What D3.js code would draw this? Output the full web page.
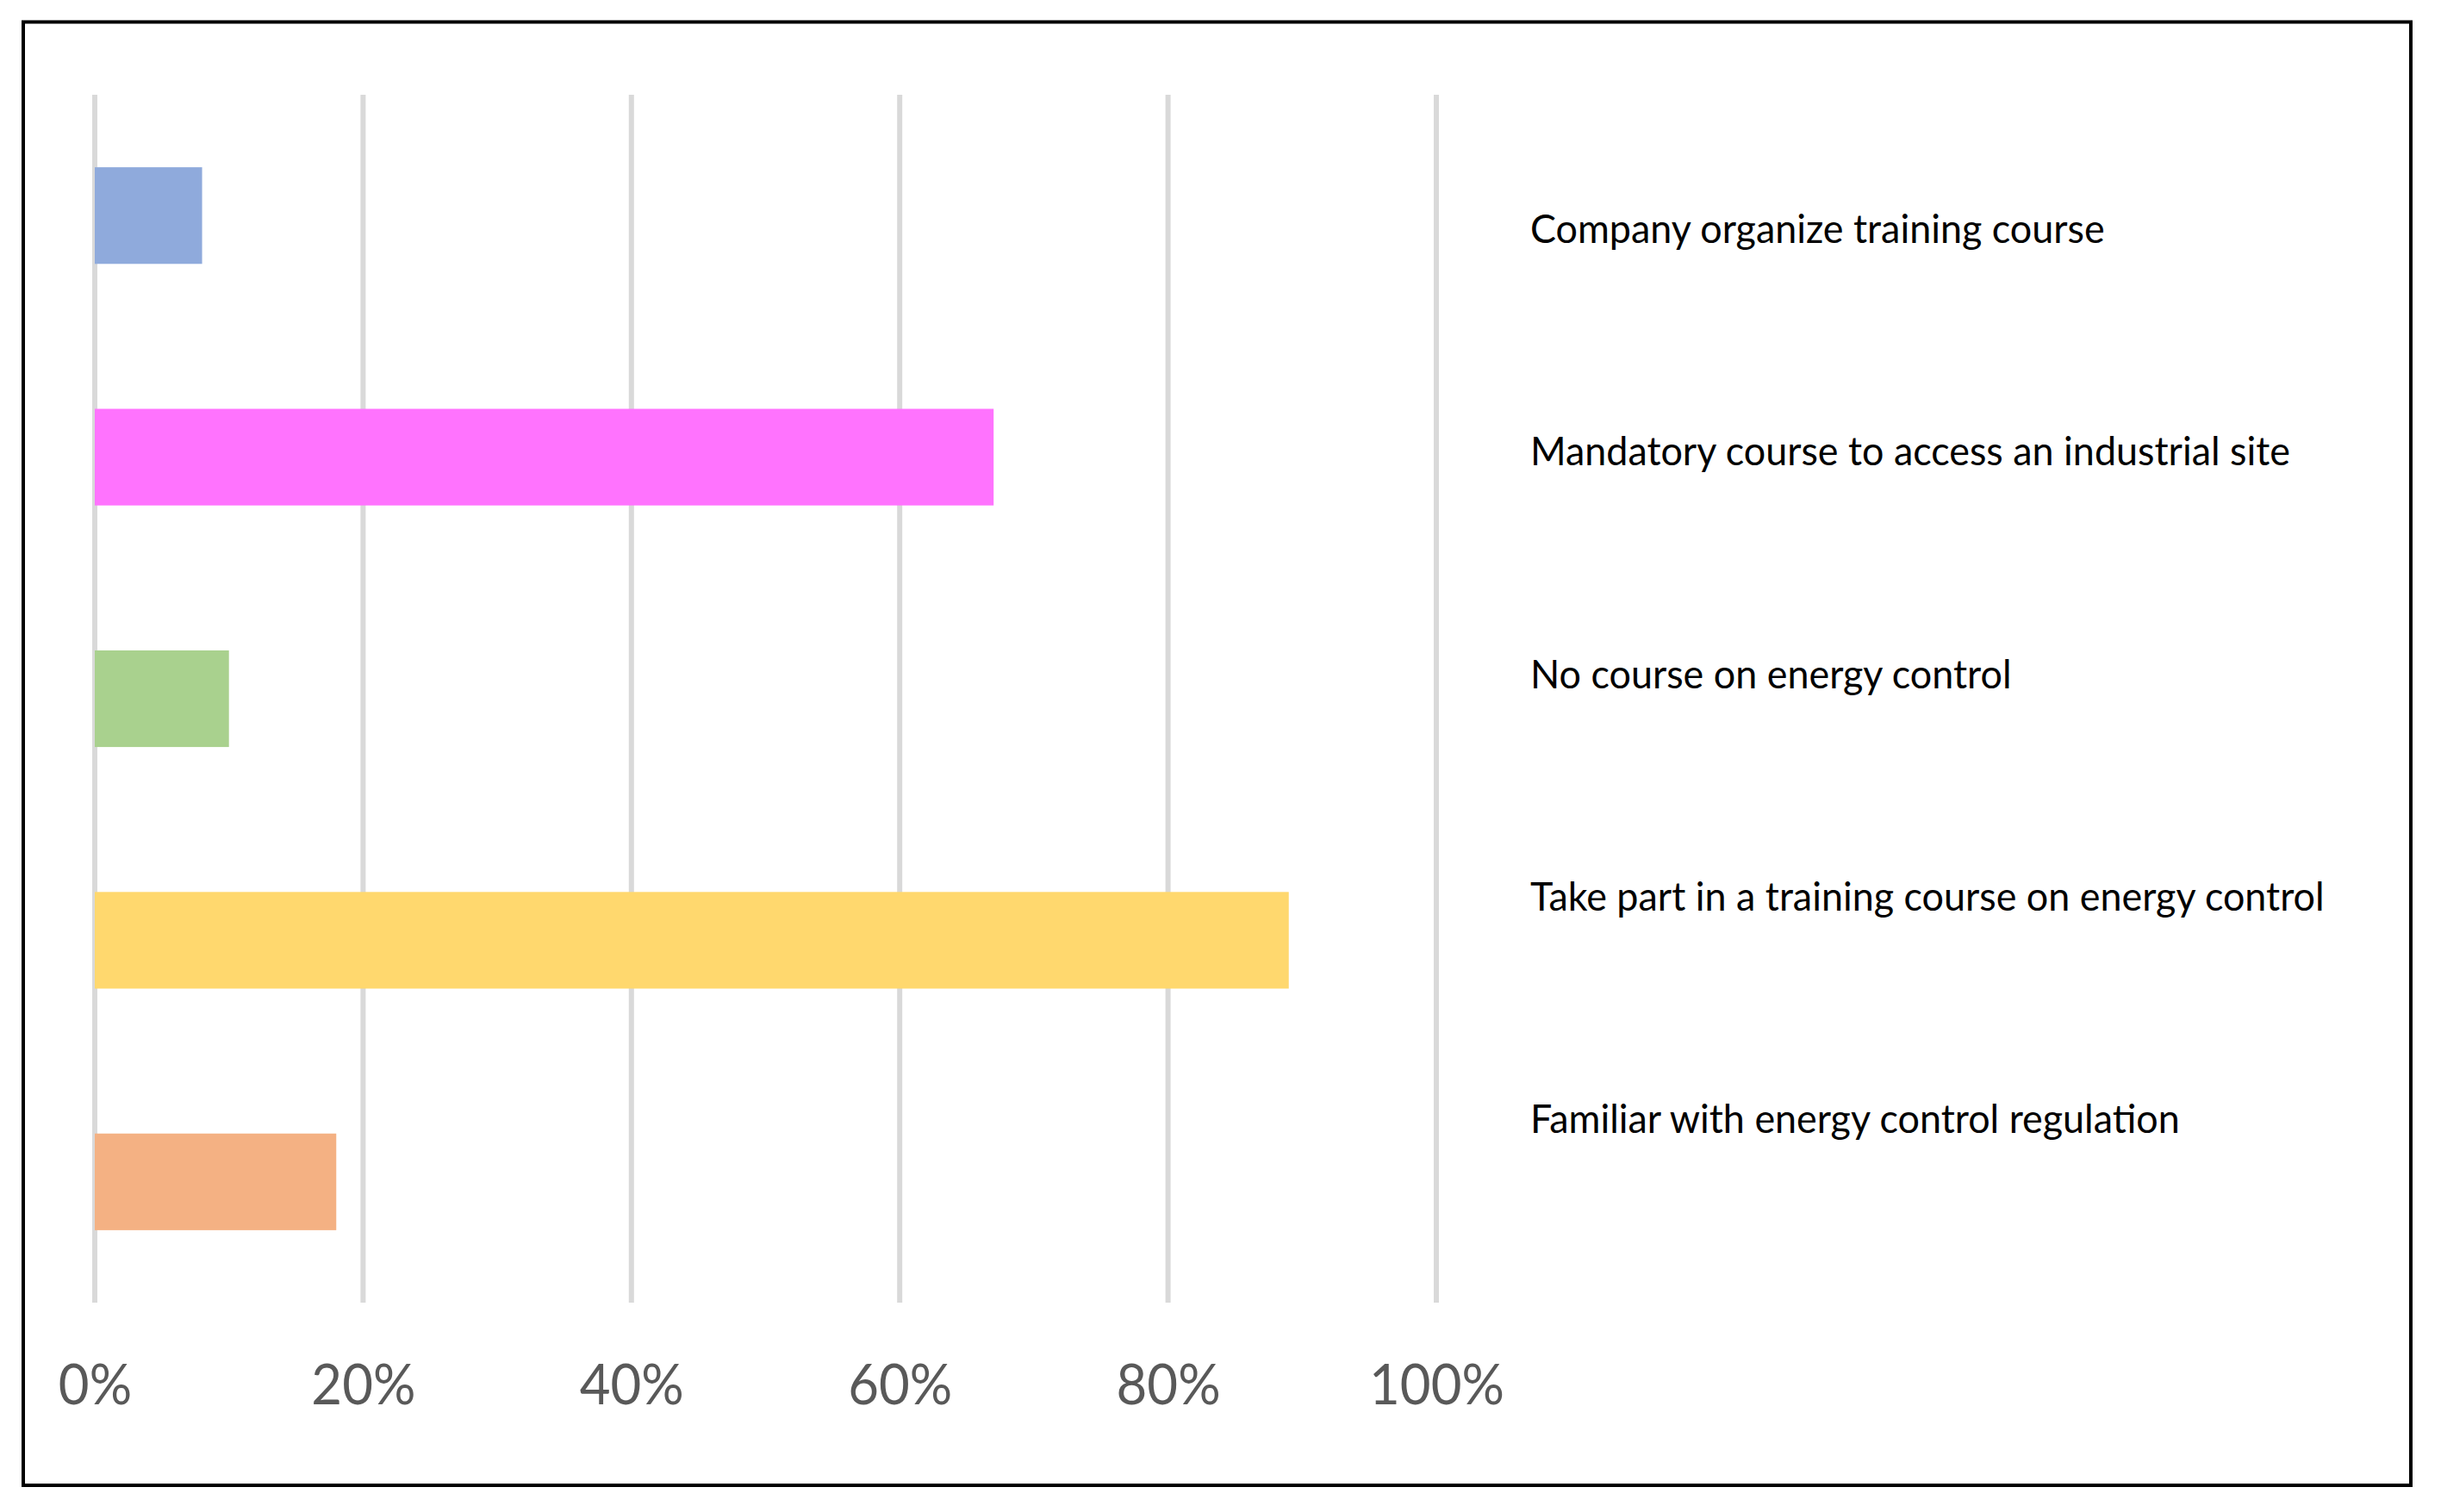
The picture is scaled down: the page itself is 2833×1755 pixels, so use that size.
<!DOCTYPE html>
<html>
<head>
<meta charset="utf-8">
<script src="https://cdn.jsdelivr.net/npm/d3@7/dist/d3.min.js"></script>
<style>
  html, body { margin: 0; padding: 0; background: #ffffff; }
  svg { display: block; }
</style>
</head>
<body>
<svg id="chart" width="2833" height="1755"></svg>
<script>
// ---- data ----
const categories = [
  "Company organize training course",
  "Mandatory course to access an industrial site",
  "No course on energy control",
  "Take part in a training course on energy control",
  "Familiar with energy control regulation"
];
const values = [0.08, 0.67, 0.10, 0.89, 0.18];
const colors = ["#8faadc", "#ff73fe", "#a9d18e", "#ffd86e", "#f4b183"];
const tickValues = [0, 0.2, 0.4, 0.6, 0.8, 1.0];

// ---- layout ----
const W = 2833, H = 1755;
const plot = { left: 110, right: 1667, top: 110, bottom: 1512 };
const labelSquish = 0.955;
const tickSquish = 0.95;

const svg = d3.select("#chart");

// frame
svg.append("rect")
  .attr("x", 27).attr("y", 25.5)
  .attr("width", 2771).attr("height", 1698.5)
  .attr("fill", "none").attr("stroke", "#000").attr("stroke-width", 4);

const x = d3.scaleLinear().domain([0, 1]).range([plot.left, plot.right]);
const y = d3.scaleBand().domain(categories).range([plot.top, plot.bottom]).paddingInner(0.6).paddingOuter(0.3);
const yLabel = d3.scalePoint().domain(categories).range([266, 1299]);

// gridlines
svg.append("g").selectAll("line").data(tickValues).join("line")
  .attr("x1", d => x(d)).attr("x2", d => x(d))
  .attr("y1", plot.top).attr("y2", plot.bottom)
  .attr("stroke", "#d9d9d9").attr("stroke-width", 6);

// bars
svg.append("g").selectAll("rect").data(categories).join("rect")
  .attr("x", x(0))
  .attr("y", d => y(d))
  .attr("width", (d, i) => x(values[i]) - x(0))
  .attr("height", y.bandwidth())
  .attr("fill", (d, i) => colors[i]);

// x axis labels
const axis = d3.axisBottom(x).tickValues(tickValues).tickSize(0).tickPadding(0).tickFormat(d3.format(".0%"));
const ax = svg.append("g").attr("transform", `translate(0, 1630)`).call(axis);
ax.select(".domain").remove();
ax.selectAll("text")
  .attr("y", 0).attr("dy", null)
  .attr("font-family", "Lato, 'Open Sans', sans-serif")
  .attr("font-size", 65)
  .attr("fill", "#595959")
  .attr("transform", `scale(${tickSquish},1)`);

// category labels on the right
svg.append("g").selectAll("text").data(categories).join("text")
  .attr("transform", d => `translate(1776, ${yLabel(d) + 16}) scale(${labelSquish},1)`)
  .attr("font-family", "Lato, 'Open Sans', sans-serif")
  .attr("font-size", 47)
  .attr("fill", "#000")
  .text(d => d);
</script>
</body>
</html>
